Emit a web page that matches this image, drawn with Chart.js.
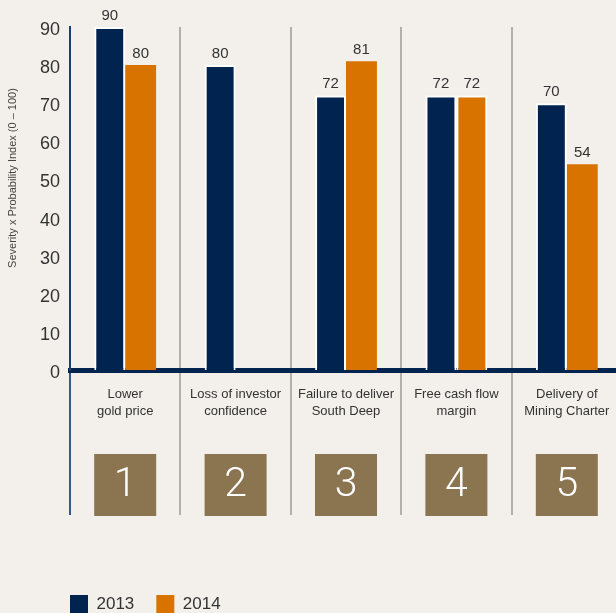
<!DOCTYPE html>
<html>
<head>
<meta charset="utf-8">
<script src="https://cdn.jsdelivr.net/npm/chart.js@4.4.1/dist/chart.umd.min.js"></script>
<style>
  html, body { margin: 0; padding: 0; background: #f3f0eb; overflow: hidden; }
  #wrap { width: 616px; height: 613px; overflow: hidden; }
</style>
</head>
<body>
<div id="wrap"><canvas id="risk-chart" width="622" height="623"></canvas></div>
<script>
// risk categories (x axis), two lines each
const categories = [
    ['Lower', 'gold price'],
    ['Loss of investor', 'confidence'],
    ['Failure to deliver', 'South Deep'],
    ['Free cash flow', 'margin'],
    ['Delivery of', 'Mining Charter']
];
const rankLabels = ['1', '2', '3', '4', '5'];
const seriesNames = ['2013', '2014'];
const values2013 = [90, 80, 72, 72, 70];
const values2014 = [80, null, 81, 72, 54];
const yMin = 0;
const yMax = 90;
const yStep = 10;
const yTitle = 'Severity x Probability Index (0 \u2013 100)';

const NAVY = '#00244f';
const ORANGE = '#d97300';
const BROWN = '#8b7550';

Chart.defaults.font.family = '"Liberation Sans", Arial, Helvetica, sans-serif';

// numbers on top of the bars
const valueLabels = {
    id: 'valueLabels',
    afterDatasetsDraw(chart) {
        const ctx = chart.ctx;
        ctx.save();
        ctx.font = '15px "Liberation Sans", Arial, sans-serif';
        ctx.fillStyle = '#333';
        ctx.textAlign = 'center';
        ctx.textBaseline = 'bottom';
        chart.data.datasets.forEach((ds, i) => {
            chart.getDatasetMeta(i).data.forEach((bar, j) => {
                if (ds.data[j] == null) return;
                ctx.fillText(ds.data[j], bar.x, bar.y - 4);
            });
        });
        ctx.restore();
    }
};

// brown numbered squares under each category
const rankBoxes = {
    id: 'rankBoxes',
    afterDraw(chart) {
        const ctx = chart.ctx;
        const xs = chart.scales.x;
        const top = chart.chartArea.bottom + 84;
        ctx.save();
        rankLabels.forEach((txt, i) => {
            const cx = xs.getPixelForValue(i);
            ctx.fillStyle = BROWN;
            ctx.fillRect(cx - 31, top, 62, 62);
            ctx.fillStyle = '#fff';
            ctx.font = '300 41px Roboto, "Liberation Sans", sans-serif';
            ctx.textAlign = 'center';
            ctx.textBaseline = 'middle';
            ctx.fillText(txt, cx, top + 32);
        });
        ctx.restore();
    }
};

// rotated y title, sits a bit above the middle of the plot
const axisTitle = {
    id: 'axisTitle',
    afterDraw(chart) {
        const ctx = chart.ctx;
        ctx.save();
        ctx.translate(13, 178);
        ctx.rotate(-Math.PI / 2);
        ctx.font = '11px "Liberation Sans", Arial, sans-serif';
        ctx.fillStyle = '#444';
        ctx.textAlign = 'center';
        ctx.textBaseline = 'middle';
        ctx.fillText(yTitle, 0, 0);
        ctx.restore();
    }
};

// legend starts under the y axis line, not at the canvas edge
const legendShift = {
    id: 'legendShift',
    afterLayout(chart) {
        chart.legend.left = 48;
    }
};

const ctx = document.getElementById('risk-chart').getContext('2d');
const riskChart = new Chart(ctx, {
    type: 'bar',
    data: {
        labels: categories,
        datasets: [{
            label: seriesNames[0],
            data: values2013,
            backgroundColor: NAVY,
            borderColor: '#ffffff',
            borderWidth: 2,
            borderSkipped: 'start'
        }, {
            label: seriesNames[1],
            data: values2014,
            backgroundColor: ORANGE,
            borderColor: '#ffffff',
            borderWidth: [0, 0, 0, 2, 0],
            borderSkipped: 'start'
        }]
    },
    options: {
        responsive: false,
        animation: false,
        events: [],
        layout: { padding: { left: 0, top: 27, right: 0, bottom: 0 } },
        datasets: {
            bar: { categoryPercentage: 0.56, barPercentage: 1.0 }
        },
        scales: {
            x: {
                z: 1,
                offset: true,
                grid: {
                    offset: true,
                    drawTicks: true,
                    tickLength: 145,
                    lineWidth: 2,
                    color: (c) => c.index === 0 ? '#3a5683' : '#b3afa9'
                },
                border: { display: true, color: NAVY, width: 5 },
                ticks: {
                    padding: -129,
                    color: '#333',
                    font: { size: 13, lineHeight: 1.3 },
                    maxRotation: 0,
                    autoSkip: false
                },
                afterFit(scale) { scale.height = 203; }
            },
            y: {
                min: yMin,
                max: yMax,
                grid: { display: false, drawTicks: false },
                border: { display: true, color: '#1f3d6e', width: 2 },
                ticks: {
                    stepSize: yStep,
                    padding: 10,
                    labelOffset: 3,
                    color: '#333',
                    font: { size: 18 }
                },
                afterFit(scale) { scale.width = 70; }
            }
        },
        plugins: {
            tooltip: { enabled: false },
            legend: {
                position: 'bottom',
                align: 'start',
                labels: {
                    boxWidth: 18,
                    boxHeight: 18,
                    padding: 22,
                    color: '#333',
                    font: { size: 17 },
                    generateLabels(chart) {
                        return Chart.defaults.plugins.legend.labels.generateLabels(chart)
                            .map(item => ({ ...item, lineWidth: 0 }));
                    }
                }
            }
        }
    },
    plugins: [valueLabels, rankBoxes, axisTitle, legendShift]
});
</script>
</body>
</html>
